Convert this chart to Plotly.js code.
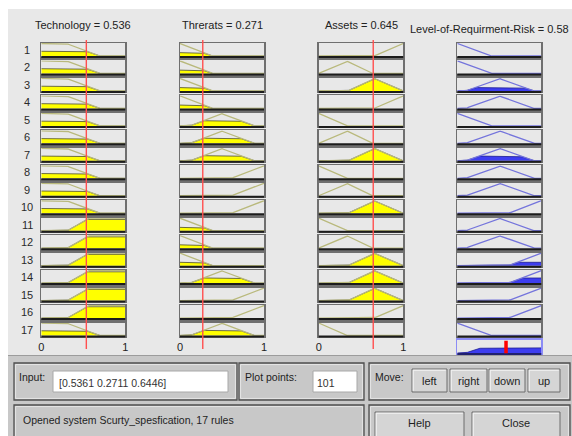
<!DOCTYPE html>
<html><head><meta charset="utf-8">
<script src="https://cdn.plot.ly/plotly-3.0.1.min.js"></script>
<style>html,body{margin:0;padding:0;background:#fff;overflow:hidden;} #chart{width:572px;height:436px;}</style>
</head><body><div id="chart"></div>
<script>
// ---------------- data ----------------
const inputNames = ['Technology', 'Threrats', 'Assets'];
const inputValues = [0.5361, 0.2711, 0.6446];
const outputName = 'Level-of-Requirment-Risk';
const outputValue = 0.58;
const systemName = 'Scurty_spesfication';
const plotPoints = 101;
const tickLabels = ['0', '1'];
const tickValues = [0, 1];
// membership functions, trapezoid params [a, b, c, d]
const techMFs = [[0, 0, 0.30, 0.68], [0.31, 0.56, 1, 1]];
const threatMFs = [[0, 0, 0, 0.37], [0.12, 0.49, 0.49, 0.87], [0.61, 1, 1, 1]];
const assetMFs = [[0, 0, 0, 0.32], [0, 0.33, 0.33, 0.64], [0.345, 0.655, 0.655, 1], [0.655, 1, 1, 1]];
const riskMFs = [[0, 0, 0, 0.39], [0.10, 0.50, 0.50, 0.90], [0.61, 1, 1, 1]];
// rules (1-based MF index per variable)
const ruleTech   = [1, 1, 1, 1, 1, 1, 1, 1, 1, 1, 2, 2, 2, 2, 2, 2, 1];
const ruleThreat = [1, 1, 1, 1, 2, 2, 2, 3, 3, 3, 1, 1, 1, 2, 3, 3, 2];
const ruleAsset  = [4, 2, 3, 4, 1, 2, 3, 1, 2, 3, 1, 2, 3, 3, 3, 4, 1];
const ruleRisk   = [1, 1, 2, 2, 1, 2, 2, 2, 2, 3, 2, 2, 3, 3, 3, 3, 1];

// ---------------- helpers ----------------
const W = 572, H = 436;
const px = x => x / W;
const py = y => 1 - y / H;
function trap(x, p) {
  const [a, b, c, d] = p;
  if (x < a || x > d) return 0;
  if (x >= b && x <= c) return 1;
  if (x < b) return (x - a) / (b - a);
  return (d - x) / (d - c);
}
const inputMFs = [techMFs, threatMFs, assetMFs];
const ruleIn = [ruleTech, ruleThreat, ruleAsset];
const nRules = ruleTech.length;

let xs = [];
for (let i = 0; i < plotPoints; i++) xs.push(i / (plotPoints - 1));
[techMFs, threatMFs, assetMFs, riskMFs].forEach(g => g.forEach(p => p.forEach(v => { if (v >= 0 && v <= 1) xs.push(v); })));
xs = Array.from(new Set(xs.map(v => +v.toFixed(6)))).sort((a, b) => a - b);

// geometry
const colX = [[41.3, 125.3], [180, 264], [318.7, 403.3], [457.3, 541.3]];
const rowTop0 = 43, rowPitch = 17.47, boxH = 14;

const layout = {
  width: W, height: H,
  margin: {l: 0, r: 0, t: 0, b: 0, pad: 0},
  paper_bgcolor: '#ffffff', plot_bgcolor: '#ffffff',
  showlegend: false, hovermode: false,
  font: {family: 'Liberation Sans, Arial, sans-serif', size: 11, color: '#222'},
  shapes: [], annotations: []
};
const traces = [];
const axName = k => (k === 1 ? '' : String(k));

function addAxis(k, c, top, isAgg) {
  const xa = {
    domain: [px(colX[c][0]), px(colX[c][1])], range: [0, 1],
    showgrid: false, zeroline: false, showticklabels: false, ticks: '',
    showline: true, mirror: true, linecolor: isAgg ? '#8c8cf5' : '#6f6f6f', linewidth: 1.5,
    fixedrange: true, anchor: 'y' + axName(k)
  };
  const ya = {
    domain: [py(top + boxH), py(top)], range: [-0.08, 1.04],
    showgrid: false, zeroline: false, showticklabels: false, ticks: '',
    showline: true, mirror: true, linecolor: isAgg ? '#8c8cf5' : '#6f6f6f', linewidth: 1.5,
    fixedrange: true, anchor: 'x' + axName(k)
  };
  layout['xaxis' + axName(k)] = xa;
  layout['yaxis' + axName(k)] = ya;
  layout.shapes.push({type: 'line', xref: 'x' + axName(k) + ' domain', yref: 'y' + axName(k) + ' domain',
    x0: 0, x1: 1, y0: 0, y1: 0, line: {color: isAgg ? '#202070' : '#1c1c1c', width: 2}});
  return xa;
}

// firing strengths
const mu = inputValues.map((v, c) => inputMFs[c].map(p => trap(v, p)));
const firing = [];
for (let r = 0; r < nRules; r++) {
  firing.push(Math.min(mu[0][ruleTech[r] - 1], mu[1][ruleThreat[r] - 1], mu[2][ruleAsset[r] - 1]));
}

for (let r = 0; r < nRules; r++) {
  const top = rowTop0 + r * rowPitch;
  for (let c = 0; c < 4; c++) {
    const k = r * 4 + c + 1;
    const xa = addAxis(k, c, top, false);
    const xref = 'x' + axName(k), yref = 'y' + axName(k);
    let p, level, lineColor, fillColor, edge;
    if (c < 3) {
      p = inputMFs[c][ruleIn[c][r] - 1];
      level = trap(inputValues[c], p);
      lineColor = '#b9b97c'; fillColor = '#ffff00'; edge = '#4a4a30';
    } else {
      p = riskMFs[ruleRisk[r] - 1];
      level = firing[r];
      lineColor = '#7474dc'; fillColor = '#3d3df0'; edge = '#1e1e90';
    }
    if (level > 0.001) {
      traces.push({type: 'scatter', mode: 'lines', x: xs, y: xs.map(x => Math.min(trap(x, p), level)),
        fill: 'tozeroy', fillcolor: fillColor, line: {color: edge, width: 0.8},
        xaxis: xref, yaxis: yref, hoverinfo: 'skip'});
    }
    traces.push({type: 'scatter', mode: 'lines', x: xs, y: xs.map(x => trap(x, p)),
      line: {color: lineColor, width: 1.3}, xaxis: xref, yaxis: yref, hoverinfo: 'skip'});
    if (r === nRules - 1 && c < 3) {
      xa.showticklabels = true;
      xa.tickvals = tickValues; xa.ticktext = tickLabels;
      xa.tickfont = {size: 11, color: '#222'};
    }
  }
  layout.annotations.push({xref: 'paper', yref: 'paper', x: px(27), y: py(top + boxH / 2),
    text: String(r + 1), showarrow: false, xanchor: 'center', yanchor: 'middle', font: {size: 11, color: '#2a2a2a'}});
}

// aggregate output
const kA = nRules * 4 + 1;
addAxis(kA, 3, rowTop0 + nRules * rowPitch, true);
const agg = xs.map(x => {
  let m = 0;
  for (let r = 0; r < nRules; r++) m = Math.max(m, Math.min(trap(x, riskMFs[ruleRisk[r] - 1]), firing[r]));
  return m;
});
traces.push({type: 'scatter', mode: 'lines', x: xs, y: agg, fill: 'tozeroy', fillcolor: '#3d3df0',
  line: {color: '#1e1e90', width: 0.8}, xaxis: 'x' + kA, yaxis: 'y' + kA, hoverinfo: 'skip'});
layout.shapes.push({type: 'line', xref: 'x' + kA, yref: 'y' + kA + ' domain', x0: outputValue, x1: outputValue,
  y0: 0.05, y1: 0.95, line: {color: '#ff0000', width: 3.5}});

// red input lines
for (let c = 0; c < 3; c++) {
  layout.shapes.push({type: 'line', xref: 'x' + axName(c + 1), yref: 'paper', x0: inputValues[c], x1: inputValues[c],
    y0: py(349), y1: py(40), line: {color: '#ff4f4f', width: 1.4}});
}

// titles
const titleX = [83.3, 222, 361];
for (let c = 0; c < 3; c++) {
  layout.annotations.push({xref: 'paper', yref: 'paper', x: px(titleX[c]), y: py(25), showarrow: false,
    xanchor: 'center', yanchor: 'middle', text: inputNames[c] + ' = ' + inputValues[c].toFixed(3),
    font: {size: 11, color: '#222'}});
}
layout.annotations.push({xref: 'paper', yref: 'paper', x: px(571), y: py(29), showarrow: false,
  xanchor: 'right', yanchor: 'middle', text: outputName + ' = ' + outputValue, font: {size: 11, color: '#222'}});

// ---------------- window chrome ----------------
function rect(x0, y0, x1, y1, fill, lc, lw, layer) {
  layout.shapes.push({type: 'rect', xref: 'paper', yref: 'paper', x0: px(x0), x1: px(x1), y0: py(y1), y1: py(y0),
    fillcolor: fill, line: {color: lc, width: lw}, layer: layer || 'below'});
}
function seg(x0, y0, x1, y1, lc, lw) {
  layout.shapes.push({type: 'line', xref: 'paper', yref: 'paper', x0: px(x0), x1: px(x1), y0: py(y0), y1: py(y1),
    line: {color: lc, width: lw}, layer: 'below'});
}
function label(x, y, text, anchor, size, color) {
  layout.annotations.push({xref: 'paper', yref: 'paper', x: px(x), y: py(y), text: text, showarrow: false,
    xanchor: anchor, yanchor: 'middle', font: {size: size, color: color || '#1e1e1e'}});
}
rect(8, 9, 572, 355, '#e8e8e8', 'rgba(0,0,0,0)', 0);
rect(8, 355, 572, 437, '#c8c8c8', 'rgba(0,0,0,0)', 0);
seg(8, 355.5, 572, 355.5, '#9c9c9c', 1);

const frames = [[14, 363, 237, 400], [239, 363, 364, 400], [369, 363, 570, 400], [14, 405, 364, 440], [369, 405, 570, 440]];
frames.forEach(f => {
  rect(f[0], f[1], f[2], f[3], 'rgba(0,0,0,0)', '#4e4e4e', 1.3);
  rect(f[0] + 1.6, f[1] + 1.6, f[2] - 1.6, f[3] - 1.6, 'rgba(0,0,0,0)', '#e9e9e9', 0.9);
});
rect(53, 371, 228, 392, '#ffffff', '#a8a8a8', 1);
rect(313, 371, 357, 392, '#ffffff', '#a8a8a8', 1);
const buttons = [[412, 369, 447, 392, 'left'], [450, 369, 487, 392, 'right'], [489, 369, 525, 392, 'down'],
  [528, 369, 560, 392, 'up'], [375, 412, 464, 441, 'Help'], [472, 412, 560, 441, 'Close']];
buttons.forEach(b => {
  rect(b[0], b[1], b[2], b[3], '#d5d5d5', '#6c6c6c', 1);
  seg(b[0] + 1.2, b[1] + 1.2, b[2] - 1.2, b[1] + 1.2, '#f6f6f6', 1);
  seg(b[0] + 1.2, b[1] + 1.2, b[0] + 1.2, b[3] - 1.2, '#f6f6f6', 1);
  label((b[0] + b[2]) / 2, (b[4] === 'Help' || b[4] === 'Close') ? 423 : 381, b[4], 'center', 11, '#1e1e1e');
});
label(17, 377, 'Input:', 'left', 10.5);
label(57, 382.5, '[' + inputValues.map(v => v.toFixed(4)).join(' ') + ']', 'left', 10.5, '#333');
label(243, 377, 'Plot points:', 'left', 10.5);
label(315, 382.5, String(plotPoints), 'left', 10.5, '#333');
label(373, 377, 'Move:', 'left', 10.5);
label(21, 420, 'Opened system ' + systemName + ', ' + nRules + ' rules', 'left', 10.5);

Plotly.newPlot('chart', traces, layout, {staticPlot: true, displayModeBar: false});
</script>
</body></html>
